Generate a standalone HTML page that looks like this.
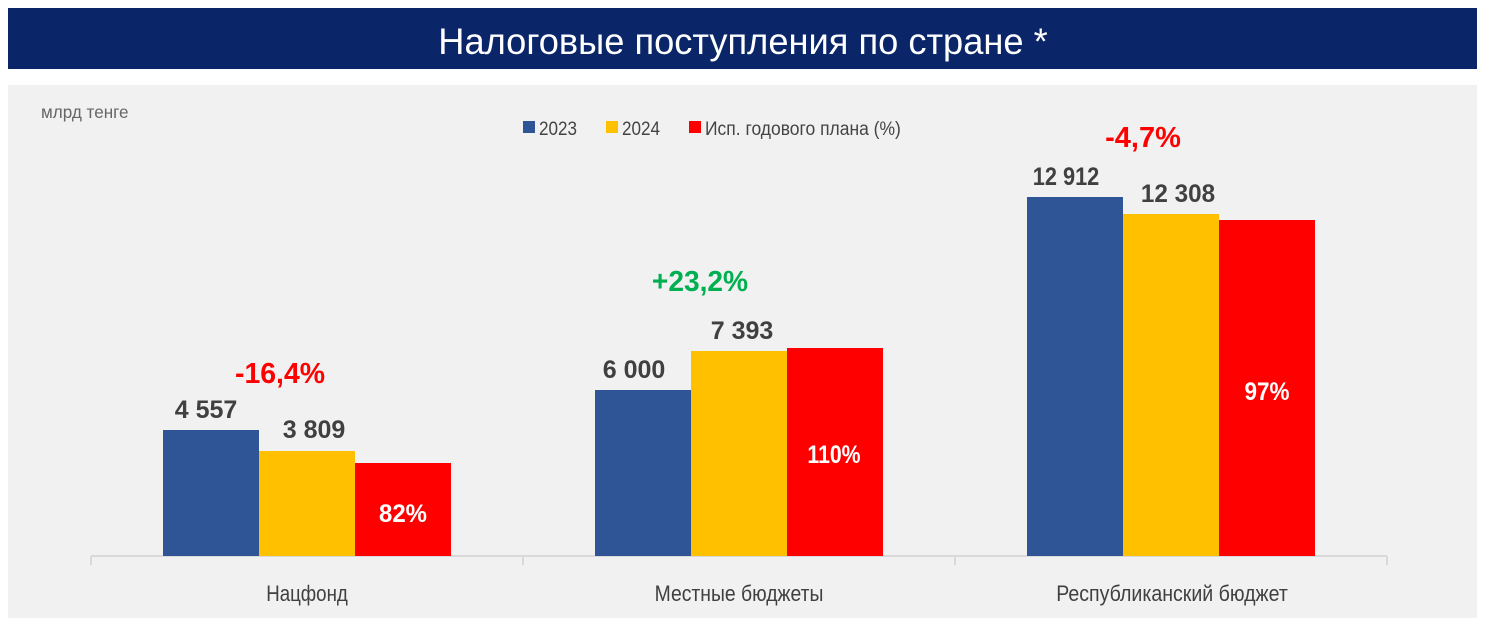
<!DOCTYPE html>
<html><head><meta charset="utf-8"><style>
body{margin:0;background:#fff;width:1486px;height:624px;overflow:hidden}
svg text{font-family:"Liberation Sans",sans-serif}
</style></head><body>
<svg width="1486" height="624" xmlns="http://www.w3.org/2000/svg">
<rect x="8" y="8" width="1469" height="61" fill="#0a2668"/>
<text transform="translate(743,54) scale(0.98,1)" font-size="37" fill="#fff" text-anchor="middle">Налоговые поступления по стране *</text>
<rect x="8" y="85" width="1469" height="533" fill="#f1f1f1"/>
<text transform="translate(41,118) scale(0.95,1)" font-size="18" fill="#666">млрд тенге</text>
<rect x="523" y="121" width="12" height="12" fill="#2f5597"/><text transform="translate(539,135) scale(0.9,1)" font-size="19" fill="#444">2023</text>
<rect x="606" y="121" width="12" height="12" fill="#ffc000"/><text transform="translate(622,135) scale(0.9,1)" font-size="19" fill="#444">2024</text>
<rect x="689" y="121" width="12" height="12" fill="#f00"/><text transform="translate(705,135) scale(0.92,1)" font-size="19" fill="#444">Исп. годового плана (%)</text>
<line x1="91" y1="556" x2="1387" y2="556" stroke="#d9d9d9" stroke-width="2"/>
<g stroke="#d9d9d9" stroke-width="2"><line x1="91" y1="556" x2="91" y2="565"/><line x1="523" y1="556" x2="523" y2="565"/><line x1="955" y1="556" x2="955" y2="565"/><line x1="1387" y1="556" x2="1387" y2="565"/></g>
<rect x="163" y="430" width="96" height="126" fill="#2f5597"/>
<rect x="259" y="451" width="96" height="105" fill="#ffc000"/>
<rect x="355" y="463" width="96" height="93" fill="#f00"/>
<rect x="595" y="390" width="96" height="166" fill="#2f5597"/>
<rect x="691" y="351" width="96" height="205" fill="#ffc000"/>
<rect x="787" y="348" width="96" height="208" fill="#f00"/>
<rect x="1027" y="197" width="96" height="359" fill="#2f5597"/>
<rect x="1123" y="214" width="96" height="342" fill="#ffc000"/>
<rect x="1219" y="220" width="96" height="336" fill="#f00"/>
<g font-size="25" font-weight="bold" fill="#404040" text-anchor="middle">
<text transform="translate(206,418) scale(1.0,1)">4 557</text><text transform="translate(314,438) scale(1.0,1)">3 809</text>
<text transform="translate(634,378) scale(1.0,1)">6 000</text><text transform="translate(742,339) scale(1.0,1)">7 393</text>
<text transform="translate(1066,185) scale(0.87,1)">12 912</text><text transform="translate(1178,202) scale(0.97,1)">12 308</text></g>
<g font-size="25" font-weight="bold" fill="#fff" text-anchor="middle">
<text transform="translate(403,522) scale(0.96,1)">82%</text><text transform="translate(834,463) scale(0.85,1)">110%</text><text transform="translate(1267,400) scale(0.9,1)">97%</text></g>
<g font-size="29" font-weight="bold" text-anchor="middle">
<text transform="translate(280,383) scale(0.98,1)" fill="#f00">-16,4%</text>
<text transform="translate(700,291) scale(0.97,1)" fill="#00b050">+23,2%</text>
<text transform="translate(1143,147) scale(1.0,1)" fill="#f00">-4,7%</text></g>
<g font-size="22" fill="#404040" text-anchor="middle">
<text transform="translate(307,601) scale(0.85,1)">Нацфонд</text><text transform="translate(739,601) scale(0.88,1)">Местные бюджеты</text><text transform="translate(1172,601) scale(0.89,1)">Республиканский бюджет</text></g>
</svg>
</body></html>
